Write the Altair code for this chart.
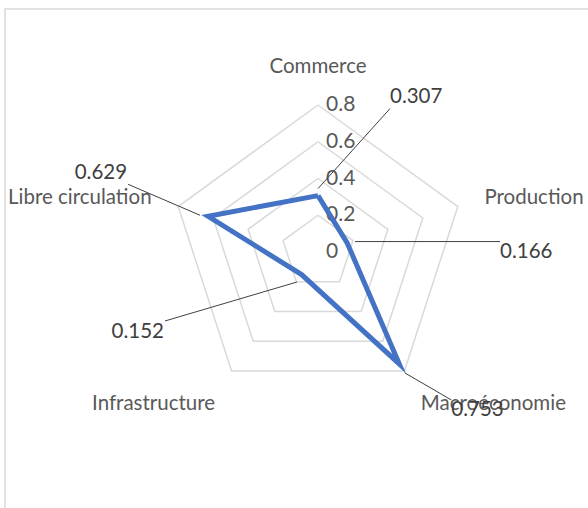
import math
import altair as alt
import pandas as pd

# ---------------- data ----------------
categories = ["Commerce", "Production", "Macroéconomie", "Infrastructure", "Libre circulation"]
values = [0.307, 0.166, 0.753, 0.152, 0.629]
value_labels = ["0.307", "0.166", "0.753", "0.152", "0.629"]
grid_levels = [0.2, 0.4, 0.6, 0.8]
tick_values = [0.0, 0.2, 0.4, 0.6, 0.8]
tick_labels = ["0", "0.2", "0.4", "0.6", "0.8"]

# ---------------- layout ----------------
W, H = 588, 508
CX, CY = 318, 252          # pixel centre of the radar
R_MAX_PX = 147             # pixel radius of the 0.8 ring
RMAX = 0.8
PX = RMAX / R_MAX_PX       # data units per pixel
FONT = "Lato"

x_scale = alt.Scale(domain=[-CX * PX, (W - CX) * PX], range=[0, W], nice=False, zero=False)
y_scale = alt.Scale(domain=[-(H - CY) * PX, CY * PX], range=[H, 0], nice=False, zero=False)

n = len(categories)
ang = [2 * math.pi * i / n for i in range(n)]


def pos(r, i):
    return r * math.sin(ang[i]), r * math.cos(ang[i])


# grid pentagons
grid_rows = []
for lv in grid_levels:
    for k in range(n + 1):
        x, y = pos(lv, k % n)
        grid_rows.append({"level": lv, "k": k, "x": x, "y": y})
grid_df = pd.DataFrame(grid_rows)

# data polygon
poly_rows = []
for k in range(n + 1):
    i = k % n
    x, y = pos(values[i], i)
    poly_rows.append({"k": k, "x": x, "y": y, "cat": categories[i]})
poly_df = pd.DataFrame(poly_rows)

# radial tick labels
tick_df = pd.DataFrame({"x": [0.0] * len(tick_values), "y": tick_values, "t": tick_labels})

# category labels
R_LAB = 175 * PX
cat_align = ["center", "left", "left", "right", "right"]
cat_base = ["bottom", "middle", "top", "top", "middle"]
cat_rows = []
for i, c in enumerate(categories):
    x, y = pos(R_LAB, i)
    cat_rows.append({"x": x, "y": y, "t": c, "al": cat_align[i], "bl": cat_base[i]})
cat_df = pd.DataFrame(cat_rows)

# value label placement (pixel offsets from the point: leader start, leader end, label anchor)
lab_off = {
    "Commerce": ((0, -7), (72, -87), (72, -99), "left"),
    "Production": ((8, -1), (153, -1), (153, 9), "left"),
    "Macroéconomie": ((5.6, 9), (52, 36), (52, 46), "left"),
    "Infrastructure": ((-4.6, 7.4), (-136.6, 46.4), (-137.6, 57), "right"),
    "Libre circulation": ((-8, -1), (-80, -32), (-81, -43), "right"),
}
lead_rows, vlab_rows = [], []
for i, c in enumerate(categories):
    px0, py0 = pos(values[i], i)
    s, e, a, al = lab_off[c]
    lead_rows.append({
        "x": px0 + s[0] * PX, "y": py0 - s[1] * PX,
        "x2": px0 + e[0] * PX, "y2": py0 - e[1] * PX,
    })
    vlab_rows.append({"x": px0 + a[0] * PX, "y": py0 - a[1] * PX, "t": value_labels[i], "al": al})
lead_df = pd.DataFrame(lead_rows)
vlab_df = pd.DataFrame(vlab_rows)

X = lambda f="x": alt.X(f"{f}:Q", scale=x_scale, axis=None)
Y = lambda f="y": alt.Y(f"{f}:Q", scale=y_scale, axis=None)

frame = alt.Chart(pd.DataFrame({"a": [0]})).mark_rect(
    fillOpacity=0, stroke="#d9d9d9", strokeWidth=1.5
).encode(x=alt.value(5), x2=alt.value(620), y=alt.value(9), y2=alt.value(540))

grid = alt.Chart(grid_df).mark_line(color="#d9d9d9", strokeWidth=1.5).encode(
    x=X(), y=Y(), detail="level:N", order="k:Q"
)

poly = alt.Chart(poly_df).mark_line(
    color="#4472c4", strokeWidth=5, strokeJoin="miter", strokeMiterLimit=10
).encode(x=X(), y=Y(), order="k:Q")

ticks = alt.Chart(tick_df).mark_text(
    align="left", baseline="middle", dx=8, font=FONT, fontSize=21, color="#595959"
).encode(x=X(), y=Y(), text="t:N")

cat_layers = []
for al, bl in sorted(set(zip(cat_align, cat_base))):
    sub = cat_df[(cat_df.al == al) & (cat_df.bl == bl)]
    cat_layers.append(
        alt.Chart(sub).mark_text(
            align=al, baseline=bl, font=FONT, fontSize=20.5, color="#595959"
        ).encode(x=X(), y=Y(), text="t:N")
    )

leaders = alt.Chart(lead_df).mark_rule(color="#404040", strokeWidth=1).encode(
    x=X(), y=Y(), x2="x2:Q", y2="y2:Q"
)

vlab_layers = []
for al in ["left", "right"]:
    sub = vlab_df[vlab_df.al == al]
    vlab_layers.append(
        alt.Chart(sub).mark_text(
            align=al, baseline="middle", font=FONT, fontSize=20.5, color="#404040"
        ).encode(x=X(), y=Y(), text="t:N")
    )

chart = alt.layer(
    frame, grid, ticks, *cat_layers, leaders, poly, *vlab_layers
).properties(
    width=W, height=H, padding=0, autosize="none", background="white"
).configure_view(stroke=None)

chart.save("out.html", embed_options={"renderer": "svg", "actions": False})
